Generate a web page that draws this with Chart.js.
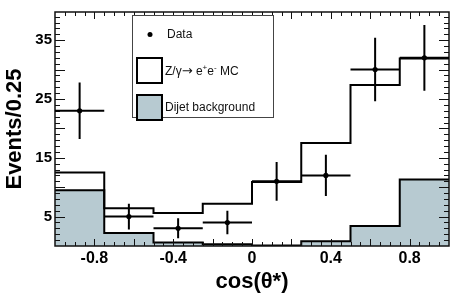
<!DOCTYPE html>
<html><head><meta charset="utf-8">
<script src="https://cdn.jsdelivr.net/npm/chart.js@4/dist/chart.umd.min.js"></script>
<style>html,body{margin:0;padding:0;background:#fff;}canvas{display:block;}</style>
</head><body>
<canvas id="c" width="450" height="296"></canvas>
<script>
// ---- data ----
const binEdges    = [-1, -0.75, -0.5, -0.25, 0, 0.25, 0.5, 0.75, 1];
const binCenters  = [-0.875, -0.625, -0.375, -0.125, 0.125, 0.375, 0.625, 0.875];
const dataCounts  = [23, 5, 3, 4, 11, 12, 30, 32];
const dataErrors  = [4.8, 2.2, 1.7, 2.0, 3.3, 3.5, 5.4, 5.6];
const mcTotal     = [12.5, 6.4, 5.6, 7.2, 10.9, 17.5, 27.4, 31.9];
const dijetBkg    = [9.5, 2.2, 0.6, 0.3, 0.1, 0.8, 3.4, 11.3];
const xTickLabels = [-0.8, -0.4, 0, 0.4, 0.8];
const yTickLabels = [5, 15, 25, 35];
const halfBin = 0.125;

const FILL = '#b7cad1';
const FONT = '"Liberation Sans", Arial, sans-serif';

function steps(vals){
  return binEdges.map((e,i)=>({x:e, y: vals[Math.min(i, vals.length-1)]}));
}

const frameTicks = {
  id:'frameTicks',
  afterDatasetsDraw(chart){
    const {ctx, chartArea:a, scales:{x,y}} = chart;
    ctx.save();
    ctx.strokeStyle='#111'; ctx.lineWidth=1;
    ctx.beginPath();
    for(let v=1; v<40; v++){
      const py = Math.round(y.getPixelForValue(v))+0.5;
      const len = (v%5===0)?10:5;
      ctx.moveTo(a.left, py); ctx.lineTo(a.left+len, py);
      ctx.moveTo(a.right, py); ctx.lineTo(a.right-len, py);
    }
    for(let k=-19; k<=19; k++){
      const v = k*0.05;
      const px = Math.round(x.getPixelForValue(v))+0.5;
      const len = (k%4===0)?7:4;
      ctx.moveTo(px, a.bottom); ctx.lineTo(px, a.bottom-len);
      ctx.moveTo(px, a.top); ctx.lineTo(px, a.top+len);
    }
    ctx.stroke();
    ctx.lineWidth=1.5;
    ctx.strokeRect(a.left, a.top, a.right-a.left, a.bottom-a.top);
    ctx.strokeStyle='#000'; ctx.fillStyle='#000'; ctx.lineWidth=2;
    binCenters.forEach((c,i)=>{
      const px = x.getPixelForValue(c), py = y.getPixelForValue(dataCounts[i]);
      ctx.beginPath();
      ctx.moveTo(x.getPixelForValue(c-halfBin), py); ctx.lineTo(x.getPixelForValue(c+halfBin), py);
      ctx.moveTo(px, y.getPixelForValue(dataCounts[i]+dataErrors[i])); ctx.lineTo(px, y.getPixelForValue(dataCounts[i]-dataErrors[i]));
      ctx.stroke();
      ctx.beginPath(); ctx.arc(px, py, 2.6, 0, Math.PI*2); ctx.fill();
    });
    ctx.restore();
  }
};

const legendBox = {
  id:'legendBox',
  afterDraw(chart){
    const ctx = chart.ctx;
    ctx.save();
    ctx.fillStyle='#fff';
    ctx.fillRect(132.5,15.5,141,102);
    ctx.strokeStyle='#444'; ctx.lineWidth=1;
    ctx.strokeRect(132.5,15.5,141,102);
    ctx.fillStyle='#000';
    ctx.beginPath(); ctx.arc(150,34.5,2.5,0,Math.PI*2); ctx.fill();
    ctx.font='12px '+FONT;
    ctx.textBaseline='middle'; ctx.fillStyle='#111';
    ctx.fillText('Data',167,34.5);
    ctx.lineWidth=2; ctx.strokeStyle='#000';
    ctx.fillStyle='#fff'; ctx.fillRect(137,58,25,25); ctx.strokeRect(137,58,25,25);
    ctx.fillStyle='#111';
    let tx=165, ty=71.5;
    const parts=[['Z/γ',0,12],['→',0,13],[' e',0,12],['+',1,8],['e',0,12],['-',1,8],[' MC',0,12]];
    parts.forEach(([t,sup,fs])=>{
      ctx.font= fs+'px '+(t==='→' ? '"DejaVu Sans", sans-serif' : FONT);
      ctx.fillText(t,tx, sup ? ty-4 : ty);
      tx += ctx.measureText(t).width;
    });
    ctx.fillStyle=FILL; ctx.fillRect(137,95,25,25); ctx.strokeRect(137,95,25,25);
    ctx.fillStyle='#111'; ctx.font='12px '+FONT;
    ctx.fillText('Dijet background',165,108);
    ctx.restore();
  }
};

new Chart(document.getElementById('c'), {
  type:'line',
  data:{
    datasets:[
      {label:'Z/γ→ e+e- MC', data: steps(mcTotal), stepped:'before', fill:false,
       borderColor:'#000', borderWidth:2, pointRadius:0},
      {label:'Dijet background', data: steps(dijetBkg), stepped:'before', fill:'origin',
       backgroundColor:FILL, borderColor:'#000', borderWidth:2, pointRadius:0}
    ]
  },
  options:{
    responsive:false, animation:false,
    layout:{padding:{top:1,right:1,left:0,bottom:0}},
    plugins:{legend:{display:false}, tooltip:{enabled:false}},
    scales:{
      x:{type:'linear', min:-1, max:1,
         grid:{display:false, drawTicks:false}, border:{display:false},
         afterBuildTicks(s){ s.ticks = xTickLabels.map(v=>({value:v})); },
         afterFit(s){ s.height = 50; },
         ticks:{color:'#000', padding:3, font:{family:FONT, size:16, weight:'bold'},
                callback:(v)=> String(v)},
         title:{display:true, text:'cos(θ*)', color:'#000', padding:{top:0,bottom:1},
                font:{family:FONT, size:22, weight:'bold'}}},
      y:{type:'linear', min:0, max:39.8,
         grid:{display:false, drawTicks:false}, border:{display:false},
         afterBuildTicks(s){ s.ticks = yTickLabels.map(v=>({value:v})); },
         afterFit(s){ s.width = 55; },
         ticks:{color:'#000', padding:3, font:{family:FONT, size:15, weight:'bold'}},
         title:{display:true, text:'Events/0.25', color:'#000', padding:{top:2,bottom:0},
                font:{family:FONT, size:22, weight:'bold'}}}
    }
  },
  plugins:[frameTicks, legendBox]
});
</script>
</body></html>
